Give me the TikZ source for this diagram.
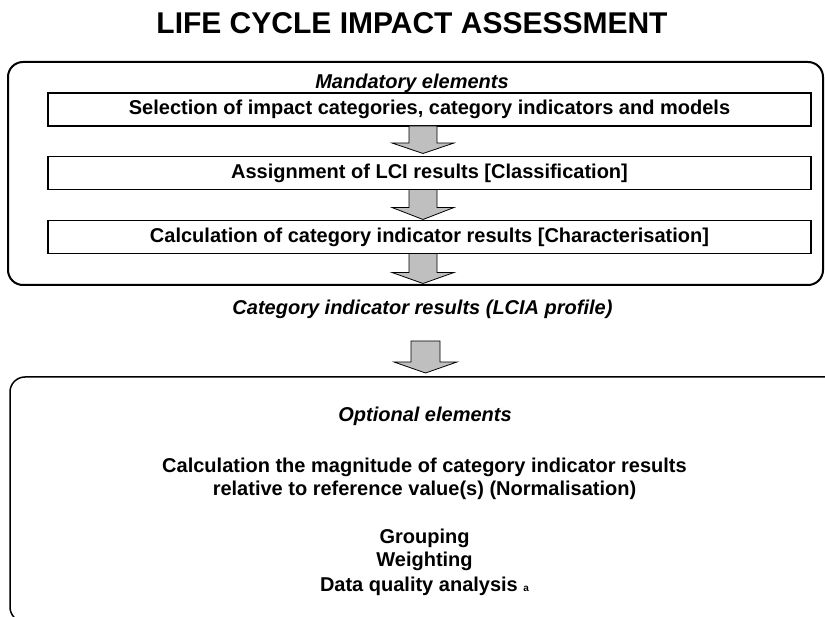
\documentclass[tikz,border=0pt]{standalone}
\usepackage{fontspec}
\setmainfont{Liberation Sans}
\newcommand{\blockarrow}[5]{% #1 centre coordinate, #2 half shaft, #3 head extension, #4 shaft length, #5 head length
  \draw[blockarrow] ([xshift=-#2pt]#1) -- ++(0,#4) -- ++(-#3,0) -- ++(#2+#3,#5) -- ++(#2+#3,-#5) -- ++(-#3,0) -- ++(0,-#4) -- cycle;}
\begin{document}
\begin{tikzpicture}[x=1pt,y=-1pt,
  every node/.style={inner sep=0pt, outer sep=0pt},
  btext/.style={font=\bfseries\fontsize{20}{24}\selectfont},
  itext/.style={font=\bfseries\itshape\fontsize{20}{24}\selectfont},
  stepbox/.style={draw, line width=1.2pt, minimum width=763pt, minimum height=33pt,
    text height=14.5pt, text depth=4pt, btext},
  frame/.style={draw, line width=2pt, rounded corners=15pt},
  blockarrow/.style={draw, line width=0.8pt, fill=black!25, line join=miter}]
\useasboundingbox (0,0) rectangle (825,617);
\clip (0,0) rectangle (825,617);

\node[anchor=base, font=\bfseries\fontsize{30}{36}\selectfont] (title) at (412,34) {LIFE CYCLE IMPACT ASSESSMENT};

\node[frame, minimum width=815pt, minimum height=223pt] (mandframe) at (415.5,173.5) {};
\node[itext, anchor=base] (mand) at (412,89) {Mandatory elements};

\node[stepbox] (sel) at (429.5,109.5) {Selection of impact categories, category indicators and models};
\node[stepbox] (cls) at (429.5,173) {Assignment of LCI results [Classification]};
\node[stepbox] (chr) at (429.5,237) {Calculation of category indicator results [Characterisation]};

\coordinate (ax) at (423,0);
\coordinate (a1) at (ax |- sel.south);
\coordinate (a2) at (ax |- cls.south);
\coordinate (a3) at (ax |- chr.south);
\blockarrow{a1}{14}{17}{17}{10.5}
\blockarrow{a2}{14}{17}{18}{12}
\blockarrow{a3}{14}{17}{19}{11}

\node[itext, anchor=base] (profile) at (422.5,315) {Category indicator results (LCIA profile)};
\coordinate (a4) at (425.5,341);
\blockarrow{a4}{14.5}{17}{21}{11}

\draw[line width=1.5pt, rounded corners=15pt] (10,377) rectangle (850,622);
\node[itext, anchor=base] (opt) at (425,422) {Optional elements};
\node[btext, anchor=base] (calc1) at (424.5,472) {Calculation the magnitude of category indicator results};
\node[btext, anchor=base] (calc2) at (424.5,495) {relative to reference value(s) (Normalisation)};
\node[btext, anchor=base] (grp) at (424.5,543) {Grouping};
\node[btext, anchor=base] (wgt) at (424.5,566) {Weighting};
\node[btext, anchor=base] (dqa) at (424.5,591) {Data quality analysis {\fontsize{10}{12}\selectfont a}};
\end{tikzpicture}
\end{document}
